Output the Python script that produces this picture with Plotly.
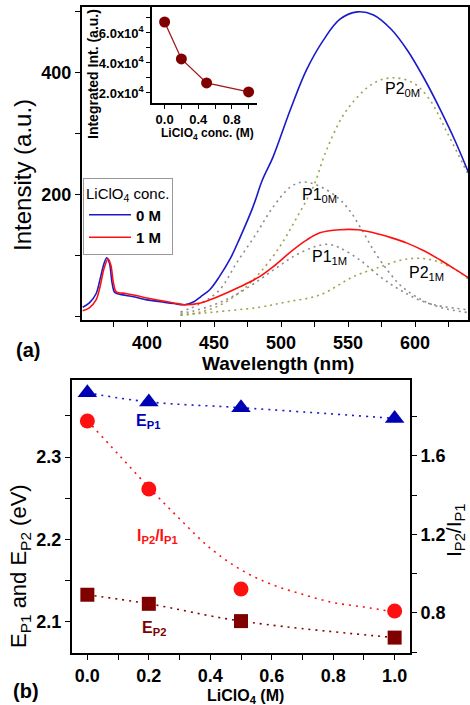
import plotly.graph_objects as go

# ---------------- Panel (a): PL spectra ----------------
wl_0m = [352, 357, 362, 365, 368, 370, 372, 374, 376, 380, 390, 400, 410, 420, 428, 435, 440, 447, 454, 462,
         469, 479, 486, 494, 507, 519, 532, 544, 557, 569, 582, 594, 607, 619, 630, 640]
int_0m = [16, 23, 38, 62, 88, 97, 88, 55, 40, 37, 33, 28, 25, 22, 20, 25, 33, 45, 66, 95,
          128, 180, 224, 262, 340, 405, 455, 488, 500, 495, 472, 438, 390, 339, 288, 236]

wl_1m = [352, 357, 362, 365, 368, 371, 373, 375, 377, 382, 390, 400, 410, 420, 428, 440, 447, 458, 469, 484,
         494, 509, 519, 529, 544, 557, 569, 582, 594, 607, 619, 630, 640]
int_1m = [10, 15, 28, 50, 80, 95, 85, 55, 41, 39, 36, 31, 27, 23, 20, 23, 28, 38, 49, 66,
          82, 110, 126, 138, 143, 143, 138, 130, 121, 108, 93, 78, 64]

# Gaussian fit components (dotted)
wl_p1_0m = [425, 440, 454, 467, 482, 494, 507, 516, 527, 542, 551, 561, 570, 580, 590, 605, 620, 640]
p1_0m = [8, 22, 44, 89, 138, 180, 213, 221, 216, 196, 175, 140, 106, 75, 50, 28, 15, 7]

wl_p2_0m = [425, 440, 455, 470, 484, 499, 512, 524, 534, 549, 569, 584, 599, 611, 624, 639]
p2_0m = [3, 8, 20, 42, 72, 115, 164, 213, 274, 339, 383, 392, 383, 356, 302, 236]

wl_p1_1m = [425, 435, 450, 465, 480, 495, 510, 525, 535, 544, 559, 574, 589, 609, 639]
p1_1m = [6, 10, 20, 35, 55, 78, 100, 115, 119, 113, 93, 66, 44, 23, 12]

wl_p2_1m = [425, 450, 484, 505, 529, 554, 574, 589, 599, 609, 619, 630, 640]
p2_1m = [3, 8, 16, 25, 36, 66, 82, 93, 96, 95, 89, 78, 62]

# Inset: integrated intensity
conc_inset = [0.0, 0.2, 0.5, 1.0]
integ_int = [67300, 42700, 26700, 20700]
inset_ytickvals = [20000, 40000, 60000]
inset_yticktext = ["2.0x10<sup>4</sup>", "4.0x10<sup>4</sup>", "6.0x10<sup>4</sup>"]

# ---------------- Panel (b) ----------------
conc = [0.0, 0.2, 0.5, 1.0]
e_p1 = [2.378, 2.367, 2.360, 2.347]
e_p2 = [2.133, 2.122, 2.101, 2.081]
ratio = [1.778, 1.432, 0.922, 0.810]
ratio_fit_x = [0.0, 0.1, 0.2, 0.3, 0.4, 0.5, 0.6, 0.7, 0.8, 0.9, 1.0]
ratio_fit = [1.78, 1.61, 1.44, 1.28, 1.13, 1.02, 0.945, 0.895, 0.853, 0.83, 0.805]

W, H = 470, 705
def px(x): return x / W
def py(y): return 1 - y / H

FONT = "Liberation Sans, Arial, sans-serif"
BLUE = "#1a1ac8"
RED = "#ff1010"
DRED = "#800000"
GRAY = "#8c8c8c"
OLIVE = "#a3a04a"

fig = go.Figure()

# main spectra
fig.add_trace(go.Scatter(x=wl_p1_0m, y=p1_0m, mode="lines", line=dict(color=GRAY, width=1.6, dash="2px,4px", shape="spline"),
                         showlegend=False, xaxis="x", yaxis="y"))
fig.add_trace(go.Scatter(x=wl_p2_0m, y=p2_0m, mode="lines", line=dict(color=OLIVE, width=1.6, dash="2px,4px", shape="spline"),
                         showlegend=False, xaxis="x", yaxis="y"))
fig.add_trace(go.Scatter(x=wl_p1_1m, y=p1_1m, mode="lines", line=dict(color=GRAY, width=1.6, dash="2px,4px", shape="spline"),
                         showlegend=False, xaxis="x", yaxis="y"))
fig.add_trace(go.Scatter(x=wl_p2_1m, y=p2_1m, mode="lines", line=dict(color=OLIVE, width=1.6, dash="2px,4px", shape="spline"),
                         showlegend=False, xaxis="x", yaxis="y"))
fig.add_trace(go.Scatter(x=wl_0m, y=int_0m, mode="lines", name="<b>0 M</b>", line=dict(color=BLUE, width=1.6, shape="spline"),
                         xaxis="x", yaxis="y"))
fig.add_trace(go.Scatter(x=wl_1m, y=int_1m, mode="lines", name="<b>1 M</b>", line=dict(color=RED, width=1.6, shape="spline"),
                         xaxis="x", yaxis="y"))

# inset
fig.add_trace(go.Scatter(x=conc_inset, y=integ_int, mode="lines+markers",
                         line=dict(color="#a01818", width=1.3),
                         marker=dict(color=DRED, size=11),
                         showlegend=False, xaxis="x2", yaxis="y2"))

# panel (b)
fig.add_trace(go.Scatter(x=conc, y=e_p1, mode="lines+markers",
                         line=dict(color=BLUE, width=1.6, dash="2px,5px", shape="spline"),
                         marker=dict(symbol="triangle-up", color="#0000b4", size=17),
                         showlegend=False, xaxis="x3", yaxis="y3"))
fig.add_trace(go.Scatter(x=conc, y=e_p2, mode="lines+markers",
                         line=dict(color=DRED, width=1.6, dash="2px,5px", shape="spline"),
                         marker=dict(symbol="square", color=DRED, size=14),
                         showlegend=False, xaxis="x3", yaxis="y3"))
fig.add_trace(go.Scatter(x=ratio_fit_x, y=ratio_fit, mode="lines",
                         line=dict(color=RED, width=1.6, dash="2px,5px", shape="spline"),
                         showlegend=False, xaxis="x3", yaxis="y4"))
fig.add_trace(go.Scatter(x=conc, y=ratio, mode="markers",
                         marker=dict(symbol="circle", color=RED, size=15),
                         showlegend=False, xaxis="x3", yaxis="y4"))

tickfont_big = dict(family=FONT, size=18, color="black", weight="bold")
tickfont_small = dict(family=FONT, size=13, color="black", weight="bold")

axis_common = dict(showline=True, linecolor="black", ticks="outside", tickcolor="black",
                   showgrid=False, zeroline=False)

fig.update_layout(
    width=W, height=H, autosize=False,
    margin=dict(l=0, r=0, t=0, b=0),
    paper_bgcolor="white", plot_bgcolor="white",
    showlegend=True,
    legend=dict(x=px(83), y=py(178), xanchor="left", yanchor="top",
                bgcolor="white", bordercolor="#999999", borderwidth=1,
                font=dict(family=FONT, size=15, color="black"),
                title=dict(text="LiClO<sub>4</sub> conc.", font=dict(family=FONT, size=15, color="black")),
                tracegroupgap=0, itemwidth=42),
    xaxis=dict(axis_common, domain=[px(82), px(468)], range=[351.5, 639.5], anchor="y",
               mirror=True, linewidth=2, ticklen=5,
               tickvals=[400, 450, 500, 550, 600], tickfont=tickfont_big,
               minor=dict(dtick=25, tick0=0, ticks="outside", ticklen=5, tickcolor="black")),
    yaxis=dict(axis_common, domain=[py(320), py(7)], range=[-5, 508], anchor="x",
               mirror=True, linewidth=2, ticklen=5,
               tickvals=[200, 400], tickfont=tickfont_big,
               minor=dict(dtick=100, tick0=0, ticks="outside", ticklen=5, tickcolor="black")),
    xaxis2=dict(axis_common, domain=[px(152), px(257)], range=[-0.15, 1.1], anchor="y2",
                linewidth=1.5, ticklen=4, tickvals=[0.0, 0.4, 0.8], ticktext=["0.0", "0.4", "0.8"],
                tickfont=tickfont_small,
                minor=dict(dtick=0.2, tick0=0, ticks="outside", ticklen=4, tickcolor="black")),
    yaxis2=dict(axis_common, domain=[py(103), py(7)], range=[13300, 77300], anchor="x2",
                linewidth=1.5, ticklen=4, tickvals=inset_ytickvals, ticktext=inset_yticktext,
                tickfont=tickfont_small,
                minor=dict(dtick=10000, tick0=0, ticks="outside", ticklen=4, tickcolor="black")),
    xaxis3=dict(axis_common, domain=[px(72), px(410)], range=[-0.05, 1.05], anchor="y3",
                mirror=True, linewidth=2, ticklen=5,
                tickvals=[0, 0.2, 0.4, 0.6, 0.8, 1.0], ticktext=["0.0", "0.2", "0.4", "0.6", "0.8", "1.0"],
                tickfont=tickfont_big,
                minor=dict(dtick=0.1, tick0=0, ticks="outside", ticklen=5, tickcolor="black")),
    yaxis3=dict(axis_common, domain=[py(653), py(380)], range=[2.0623, 2.3936], anchor="x3",
                linewidth=2, ticklen=5, tickvals=[2.1, 2.2, 2.3], ticktext=["2.1", "2.2", "2.3"],
                tickfont=tickfont_big,
                minor=dict(dtick=0.05, tick0=0, ticks="outside", ticklen=5, tickcolor="black")),
    yaxis4=dict(axis_common, overlaying="y3", side="right", range=[0.596, 1.987], anchor="x3",
                linewidth=2, ticklen=5, tickvals=[0.8, 1.2, 1.6], ticktext=["0.8", "1.2", "1.6"],
                tickfont=tickfont_big,
                minor=dict(dtick=0.2, tick0=0, ticks="outside", ticklen=5, tickcolor="black")),
)

ann = []
def add_text(x, y, text, size, color="black", bold=False, angle=0):
    ann.append(dict(x=px(x), y=py(y), xref="paper", yref="paper", text=text, showarrow=False,
                    xanchor="center", yanchor="middle", textangle=angle,
                    font=dict(family=FONT, size=size, color=color, weight="bold" if bold else "normal")))

# panel (a) texts
add_text(22, 175, "Intensity (a.u.)", 24, angle=-90)
add_text(278, 363, "Wavelength (nm)", 19, bold=True)
add_text(28, 350, "(a)", 20, bold=True)
add_text(93, 74, "Integrated Int. (a.u.)", 14, bold=True, angle=-90)
add_text(207, 134, "LiClO<sub>4</sub> conc. (M)", 12, bold=True)
add_text(402, 90, "P2<sub>0M</sub>", 16)
add_text(319, 195, "P1<sub>0M</sub>", 16)
add_text(329, 257, "P1<sub>1M</sub>", 16)
add_text(426, 273, "P2<sub>1M</sub>", 16)

# panel (b) texts
add_text(20, 566, "E<sub>P1</sub> and E<sub>P2</sub> (eV)", 22, angle=-90)
add_text(455, 531, "I<sub>P2</sub>/I<sub>P1</sub>", 21, angle=-90)
add_text(245, 696, "LiClO<sub>4</sub> (M)", 16, bold=True)
add_text(26, 691, "(b)", 20, bold=True)
add_text(148, 421, "E<sub>P1</sub>", 16, color="#0000b4", bold=True)
add_text(157, 536, "I<sub>P2</sub>/I<sub>P1</sub>", 16, color=RED, bold=True)
add_text(154, 628, "E<sub>P2</sub>", 16, color=DRED, bold=True)

fig.update_layout(annotations=ann)

fig.write_html("out.html", config={"displayModeBar": False},
               post_script="document.body.style.margin='0';document.body.style.padding='0';document.body.style.overflow='hidden';")
